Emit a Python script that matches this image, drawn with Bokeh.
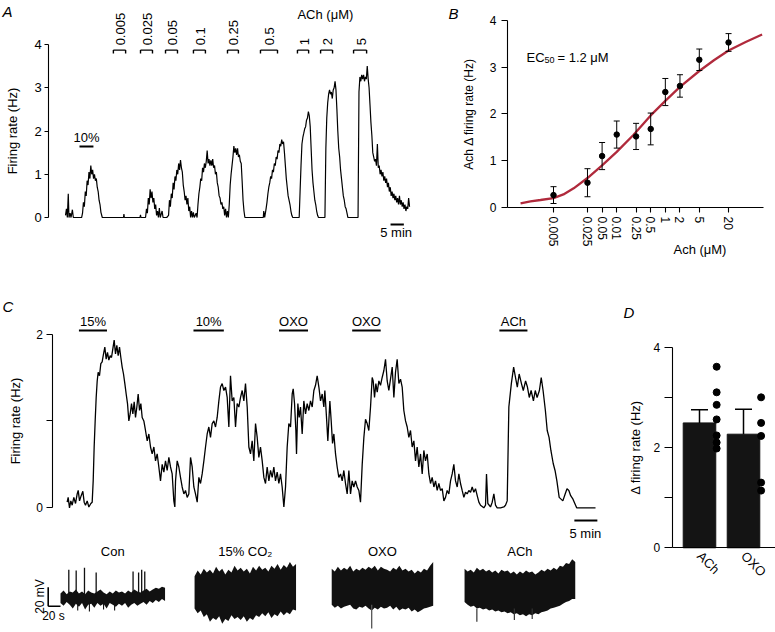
import math
from bokeh.plotting import figure
from bokeh.models import Range1d, FixedTicker, Label, CustomJSTickFormatter
from bokeh.layouts import row, column
from bokeh.embed import file_html
from bokeh.resources import INLINE
from bokeh.core.properties import value

FONT = "Liberation Sans"

# ======================= DATA =======================
# Panel A: firing rate trace (time in min, rate in Hz)
A_TRACE = [
(0.00,0.05),(0.35,0.2),(0.69,0.0),(1.04,0.55),(1.30,0.0),(1.73,0.1),(2.08,0.0),(2.59,0.18),(2.94,0.0),(6.05,0.0),
(6.40,0.1),(6.74,0.35),(7.09,0.25),(7.44,0.6),(7.78,0.5),(8.13,0.85),(8.47,0.75),(8.82,1.05),(9.17,0.9),(9.51,1.2),(9.86,1.0),(10.20,1.1),(10.55,0.9),(10.89,1.0),(11.24,0.85),(11.59,0.9),(11.93,0.7),(12.28,0.6),(12.62,0.4),(12.97,0.3),(13.32,0.12),(13.83,0.0),
(21.79,0.0),(21.96,0.08),(22.13,0.0),(28.01,0.0),(28.19,0.06),(28.36,0.0),(30.09,0.0),
(30.44,0.2),(30.78,0.1),(31.13,0.45),(31.47,0.3),(31.82,0.65),(32.16,0.45),(32.51,0.6),(32.86,0.35),(33.20,0.45),(33.55,0.2),(33.89,0.3),(34.24,0.05),(34.59,0.15),(34.93,0.0),(35.28,0.22),(35.62,0.0),(36.32,0.15),(36.66,0.0),(38.04,0.0),
(38.74,0.05),(39.08,0.4),(39.43,0.25),(39.77,0.55),(40.12,0.45),(40.47,0.8),(40.81,0.65),(41.16,0.95),(41.50,0.85),(41.85,1.1),(42.19,1.0),(42.54,1.25),(42.89,1.1),(43.23,1.33),(43.58,1.15),(43.92,1.05),(44.27,0.75),(44.62,0.6),(44.96,0.4),(45.31,0.5),(45.65,0.3),(46.00,0.45),(46.34,0.15),(46.69,0.25),(47.04,0.0),(47.38,0.15),(47.73,0.0),(48.07,0.12),(48.42,0.0),(49.11,0.1),(49.46,0.0),
(49.80,0.3),(50.15,0.55),(50.50,0.7),(50.84,0.9),(51.19,0.85),(51.53,1.15),(51.88,1.05),(52.22,1.25),(52.57,1.15),(52.92,1.3),(53.26,1.55),(53.61,1.25),(53.95,1.35),(54.30,1.2),(54.65,1.32),(54.99,1.2),(55.34,1.35),(55.68,1.15),(56.03,1.2),(56.37,1.0),(56.72,1.05),(57.07,0.8),(57.41,0.7),(57.76,0.5),(58.10,0.45),(58.45,0.3),(58.80,0.35),(59.14,0.2),(59.49,0.25),(59.83,0.05),(60.18,0.2),(60.53,0.0),(60.87,0.15),(61.22,0.0),(61.56,0.3),
(61.91,0.75),(62.25,1.0),(62.60,1.2),(62.95,1.4),(63.29,1.65),(63.64,1.5),(63.98,1.6),(64.33,1.45),(64.68,1.6),(65.02,1.4),(65.37,1.45),(65.71,1.3),(66.06,1.25),(66.40,0.85),(66.75,0.4),(67.10,0.15),(67.44,0.0),
(74.36,0.0),(74.53,0.15),(74.88,0.0),
(75.40,0.2),(75.74,0.35),(76.09,0.55),(76.43,0.7),(76.78,0.8),(77.13,0.95),(77.47,0.9),(77.82,1.1),(78.16,1.05),(78.51,1.25),(78.86,1.2),(79.20,1.4),(79.55,1.35),(79.89,1.55),(80.24,1.5),(80.58,1.7),(80.93,1.65),(81.28,1.8),(81.62,1.7),(81.97,1.75),(82.31,1.5),(82.66,1.2),(83.01,0.9),(83.35,0.7),(83.70,0.5),(84.04,0.4),(84.39,0.3),(84.74,0.15),(85.08,0.05),(85.43,0.0),(87.85,0.0),
(88.19,0.6),(88.54,1.2),(88.89,1.7),(89.23,1.85),(89.58,1.95),(89.92,2.05),(90.27,2.1),(90.61,2.25),(90.96,2.3),(91.31,2.45),(91.65,2.35),(92.00,2.1),(92.34,1.6),(92.69,1.1),(93.04,0.8),(93.38,0.6),(93.73,0.4),(94.07,0.3),(94.42,0.15),(94.77,0.05),(95.11,0.0),(97.53,0.0),
(97.88,1.6),(98.22,2.3),(98.57,2.65),(98.92,2.85),(99.26,2.95),(99.61,2.85),(99.95,2.9),(100.30,2.75),(100.65,2.95),(100.99,3.0),(101.34,3.15),(101.68,2.95),(102.03,2.5),(102.37,2.0),(102.72,1.6),(103.07,1.4),(103.41,1.1),(103.76,0.9),(104.10,0.7),(104.45,0.5),(104.80,0.4),(105.14,0.25),(105.49,0.2),(105.83,0.1),(106.18,0.0),(109.98,0.0),
(110.16,1.5),(110.33,2.9),(110.68,3.25),(111.02,3.15),(111.37,3.3),(111.71,3.2),(112.06,3.3),(112.40,3.15),(112.75,3.25),(113.10,3.2),(113.44,3.5),(113.79,3.2),(114.13,3.0),(114.48,2.6),(114.82,2.2),(115.17,1.9),(115.52,1.5),(115.86,1.4),(116.21,1.3),(116.55,1.35),(116.90,1.2),(117.25,1.7),(117.59,1.15),(117.94,1.2),(118.28,1.0),(118.63,1.1),(118.98,0.95),(119.32,1.05),(119.67,0.85),(120.01,0.95),(120.36,0.8),(120.70,0.9),(121.05,0.7),(121.40,0.8),(121.74,0.6),(122.09,0.7),(122.43,0.5),(122.78,0.6),(123.13,0.45),(123.47,0.55),(123.82,0.4),(124.16,0.5),(124.51,0.35),(124.85,0.45),(125.20,0.3),(125.55,0.5),(125.89,0.3),(126.24,0.4),(126.58,0.25),(126.93,0.35),(127.27,0.2),(127.62,0.3),(127.97,0.15),(128.31,0.25),(128.66,0.2),(129.00,0.45),(129.35,0.25)]

A_CONC = ["0.005", "0.025", "0.05", "0.1", "0.25", "0.5", "1", "2", "5"]
A_APP_START = [18.0, 28.2, 37.6, 48.1, 60.9, 73.3, 87.2, 95.9, 108.3]
A_APP_END = [22.6, 32.7, 42.1, 52.6, 65.0, 79.7, 91.4, 100.4, 113.2]
A_CO2_LABEL = "10%"
A_CO2_START, A_CO2_END = 5.26, 10.5
A_SCALE_MIN = 5

# Panel B: concentration-response
B_CONC = [0.005, 0.025, 0.05, 0.1, 0.25, 0.5, 1, 2, 5, 20]
B_TICK_LABELS = ["0.005", "0.025", "0.05", "0.01", "0.25", "0.5", "1", "2", "5", "20"]
B_MEAN = [0.265, 0.53, 1.10, 1.56, 1.52, 1.68, 2.47, 2.60, 3.16, 3.53]
B_SEM = [0.18, 0.30, 0.29, 0.29, 0.28, 0.34, 0.29, 0.24, 0.23, 0.19]
B_FIT_X = [0.00105, 0.00168, 0.0027, 0.005, 0.008, 0.013, 0.025, 0.05, 0.1, 0.22, 0.5, 1.0, 2.0, 5.0, 10.0, 20.0, 45.0, 98.0]
B_FIT_Y = [0.09, 0.13, 0.16, 0.20, 0.28, 0.41, 0.63, 0.90, 1.19, 1.55, 1.97, 2.28, 2.58, 2.92, 3.15, 3.36, 3.54, 3.70]

# Panel C: firing rate trace (time in min, rate in Hz)
C_TRACE = [
(0.14,0.065),(0.36,0.12),(0.65,0.0),(0.94,0.08),(1.23,0.03),(1.59,0.12),(1.96,0.05),(2.32,0.16),(2.54,0.2),(2.83,0.08),(3.19,0.14),(3.55,0.19),(3.84,0.065),(4.13,0.03),(4.49,0.08),(4.86,0.01),(5.29,0.05),(5.58,0.065),
(5.80,0.31),(6.01,0.7),(6.23,1.0),(6.45,1.27),(6.67,1.46),(6.88,1.56),
(7.17,1.52),(7.46,1.66),(7.75,1.68),(8.04,1.77),(8.33,1.85),(8.62,1.71),(8.91,1.79),(9.20,1.7),(9.49,1.75),(9.78,1.73),
(10.07,1.83),(10.36,1.93),(10.65,1.77),(10.94,1.87),(11.23,1.75),(11.52,1.85),(11.81,1.73),(12.10,1.62),(12.39,1.54),(12.68,1.43),
(12.97,1.31),(13.26,1.2),(13.55,1.0),(13.84,1.08),(14.13,1.2),(14.42,1.08),(14.71,1.22),(15.00,1.04),(15.29,1.16),(15.58,1.31),
(15.87,1.12),(16.16,1.2),(16.45,1.04),
(16.81,1.0),(17.17,0.89),(17.54,0.77),(17.90,0.85),(18.26,0.7),(18.62,0.62),(18.99,0.7),(19.35,0.54),(19.71,0.62),(20.07,0.47),(20.43,0.31),(20.80,0.5),(21.16,0.41),(21.52,0.54),(21.88,0.43),(22.25,0.58),(22.61,0.47),(22.97,0.39),
(23.33,0.08),(23.55,0.01),(23.70,0.31),
(24.06,0.54),(24.42,0.47),(24.78,0.35),(25.14,0.24),(25.51,0.16),(25.87,0.2),(26.23,0.12),(26.59,0.16),(26.96,0.58),(27.32,0.47),
(27.68,0.24),(28.04,0.16),(28.41,0.065),(28.77,0.35),(29.13,0.28),(29.49,0.39),(29.86,0.54),(30.22,0.7),(30.58,0.85),(30.94,0.93),
(31.30,0.81),(31.67,0.97),(32.03,1.0),(32.39,0.93),(32.75,1.04),(33.12,1.23),(33.48,1.39),(33.84,1.43),(34.20,1.35),(34.57,1.39),
(34.93,1.27),(35.29,0.93),(35.65,1.52),(36.01,1.23),(36.38,1.27),(36.74,0.93),(37.10,1.2),(37.46,1.16),(37.83,1.27),(38.19,1.35),
(38.55,1.23),(38.91,1.43),(39.28,1.16),(39.64,0.7),(40.00,0.62),(40.36,0.77),(40.72,0.54),(41.09,0.97),(41.45,0.81),(41.81,0.58),
(42.17,0.7),(42.54,0.54),(42.90,0.35),(43.26,0.28),(43.62,0.47),(43.99,0.31),
(44.35,0.43),(44.71,0.35),(45.07,0.47),(45.43,0.31),(45.80,0.41),(46.16,0.28),(46.52,0.39),(46.88,0.24),(47.25,0.01),(47.61,0.24),(47.97,0.7),(48.33,0.97),(48.70,0.93),(49.06,1.31),
(49.28,1.37),(49.57,1.2),(49.86,0.89),(50.00,0.62),(50.29,1.2),(50.58,1.04),(50.87,1.16),
(51.23,0.85),(51.59,1.23),(51.96,1.08),(52.32,1.2),(52.68,1.12),(53.04,1.23),(53.41,1.16),(53.77,1.35),(54.13,1.41),(54.49,1.52),(54.86,1.39),(55.22,1.23),(55.58,1.31),(55.94,1.16),
(56.16,1.35),(56.52,1.04),(56.81,0.77),(57.25,1.23),(57.54,1.0),(57.83,0.74),(58.12,0.85),
(58.48,0.62),(58.84,0.47),(59.20,0.35),(59.57,0.39),(59.93,0.31),(60.29,0.43),(60.65,0.28),(61.01,0.16),(61.38,0.43),(61.74,0.16),(62.10,0.31),(62.46,0.24),(62.83,0.31),(63.19,0.24),(63.55,0.2),(63.91,0.065),(64.28,0.5),(64.64,0.81),(65.00,1.02),(65.36,0.97),(65.72,0.89),(66.09,1.16),(66.45,1.5),
(66.67,1.46),(66.96,1.27),(67.25,1.43),
(67.54,1.33),(67.90,1.46),(68.26,1.41),(68.62,1.5),(68.99,1.58),(69.35,1.71),(69.71,1.46),(70.07,1.35),(70.43,1.48),(70.80,1.62),(71.16,1.27),(71.52,1.56),(71.88,1.71),(72.25,1.43),(72.61,1.48),(72.97,1.39),(73.33,1.12),(73.70,1.0),(74.06,0.93),(74.42,0.81),(74.78,0.89),(75.14,0.7),(75.51,0.77),(75.87,0.54),(76.23,0.7),(76.59,0.47),(76.96,0.62),(77.32,0.39),(77.68,0.66),(78.04,0.54),(78.41,0.62),(78.77,0.39),(79.13,0.28),(79.49,0.35),(79.86,0.24),(80.22,0.31),(80.58,0.2),(80.94,0.28),(81.30,0.2),(81.67,0.22),(82.03,0.08),(82.39,0.12),(82.75,0.2),(83.12,0.16),(83.48,0.31),(83.84,0.39),(84.20,0.5),(84.57,0.31),(84.93,0.24),(85.29,0.39),(85.65,0.28),(86.01,0.2),(86.38,0.12),(86.74,0.18),(87.10,0.16),(87.46,0.2),(87.83,0.18),(88.19,0.24),(88.55,0.18),(88.91,0.22),(89.28,0.14),(89.64,0.065),(90.00,0.03),
(90.72,0.0),(91.09,0.03),(91.30,0.39),(91.59,0.05),(92.17,0.01),(92.54,0.065),(92.90,0.16),(93.26,0.03),(93.62,0.0),(94.35,0.0),(95.07,0.01),(95.43,0.03),(95.80,0.08),
(96.16,1.16),(96.3,1.23),(96.7,1.43),(97.2,1.62),(97.6,1.5),(98.0,1.39),(98.4,1.54),(98.9,1.43),(99.3,1.35),(99.8,1.46),(100.2,1.39),(100.6,1.27),(101.0,1.35),(101.5,1.23),(101.9,1.35),(102.3,1.27),(102.8,1.35),(103.2,1.5),(103.6,1.35),(104.1,1.12),(104.5,0.89),(104.9,0.81),(105.3,0.66),(105.8,0.51),(106.2,0.43),(106.6,0.31),(107.1,0.12),(107.5,0.10),(107.9,0.08),(108.4,0.16),(108.8,0.22),(109.2,0.20),(109.6,0.14),(110.1,0.10),(110.5,0.05),(110.9,0.0),(115.0,0.0)]

C_LABELS = ["15%", "10%", "OXO", "OXO", "ACh"]
C_START = [2.7, 27.6, 46.2, 62.1, 94.1]
C_END = [8.8, 34.2, 52.5, 68.3, 100.2]
C_SCALE_MIN = 5

# Voltage traces (local time s, lower mV, upper mV)
V_TITLES = ["Con", "15% CO\u2082", "OXO", "ACh"]
CON_ENV = [(0,-6,4),(5,-9,7),(10,-5,3),(15,-8,6),(20,-12,5),(25,-7,8),(30,-10,4),(35,-6,6),(40,-13,3),(45,-8,7),(50,-7,5),(55,-11,4),(60,-6,6),(65,-9,8),(70,-7,5),(75,-12,3),(80,-6,6),(85,-8,4),(90,-10,7),(95,-7,5),(100,-9,6),(105,-6,4),(110,-11,7),(115,-8,5),(120,-6,8),(125,-9,6),(130,-7,5),(135,-5,7),(140,-8,9),(145,-4,6),(150,-6,8),(155,-3,10),(160,-5,9),(165,-2,11),(170,-4,10)]
CON_SPIKES = [(13.5,29),(25.5,28),(39,31),(58,26),(118,27),(127,26),(132,29),(137,27)]
CON_DIPS = [(28,-14),(47,-15),(70,-13),(88,-14)]
CO2_ENV = [(0,-12,22),(5,-17,28),(10,-14,24),(15,-21,30),(20,-18,26),(25,-26,29),(30,-22,25),(35,-24,32),(40,-20,27),(45,-28,30),(50,-23,24),(55,-25,29),(60,-19,26),(65,-23,33),(70,-21,28),(75,-24,31),(80,-20,27),(85,-26,30),(90,-22,25),(95,-24,32),(100,-19,28),(105,-21,33),(110,-17,29),(115,-20,31),(120,-16,27),(125,-22,33),(130,-18,30),(135,-20,35),(140,-15,29),(145,-19,34),(150,-16,31),(155,-18,37),(160,-13,32),(165,-14,35)]
OXO_ENV = [(0,-8,30),(5,-11,27),(10,-9,32),(15,-12,28),(20,-10,31),(25,-9,29),(30,-8,33),(35,-12,27),(40,-13,30),(45,-10,28),(50,-11,31),(55,-9,29),(60,-12,32),(65,-14,30),(70,-11,33),(75,-13,28),(80,-10,32),(85,-12,30),(90,-11,29),(95,-9,27),(100,-13,31),(105,-10,29),(110,-14,33),(115,-12,28),(120,-13,30),(125,-11,27),(130,-15,29),(135,-13,25),(140,-16,28),(145,-14,26),(150,-12,30),(155,-11,28),(160,-10,33),(165,-9,37)]
OXO_DIPS = [(65,-33)]
ACH_ENV = [(0,-5,30),(5,-8,27),(10,-10,29),(15,-9,26),(20,-12,31),(25,-11,28),(30,-13,30),(35,-12,27),(40,-14,29),(45,-13,26),(50,-15,28),(55,-14,25),(60,-16,29),(65,-15,27),(70,-17,28),(75,-16,25),(80,-18,27),(85,-17,24),(90,-19,27),(95,-18,25),(100,-20,28),(105,-18,26),(110,-19,27),(115,-17,24),(120,-18,26),(125,-16,29),(130,-15,27),(135,-14,30),(140,-12,28),(145,-11,31),(150,-10,29),(155,-9,33),(160,-7,32),(165,-5,36),(170,-4,35),(175,-2,40),(180,-2,37)]
ACH_DIPS = [(20,-26),(81,-24),(110,-23)]
V_SCALE_MV = 20
V_SCALE_S = 20

# Panel D
D_GROUPS = ["ACh", "OXO"]
D_MEAN = [2.49, 2.265]
D_SEM = [0.26, 0.495]
D_ACH_PTS = [3.61, 3.10, 2.85, 2.56, 2.24, 2.10, 1.98]
D_OXO_PTS = [3.0, 2.49, 2.23, 1.30, 1.14]

# ======================= LAYOUT CONSTANTS =======================
V_START = [0, 218, 441, 657]      # where each voltage trace is placed (s)
D_POS = [0.5, 1.5]
D_DOT_SHIFT = 0.39


def make_fig(**kw):
    p = figure(output_backend="svg", toolbar_location=None,
               min_border_left=0, min_border_right=0, min_border_top=0, min_border_bottom=0, **kw)
    p.outline_line_color = None
    for g in p.grid:
        g.visible = False
    p.background_fill_color = "white"
    p.border_fill_color = "white"
    return p


def style_axis(ax, tick_size="12px", label_size="13px"):
    ax.axis_line_color = "black"
    ax.axis_line_width = 1.1
    ax.major_tick_line_color = "black"
    ax.major_tick_line_width = 1.1
    ax.minor_tick_line_color = None
    ax.major_tick_in = 0
    ax.major_label_text_font = FONT
    ax.major_label_text_font_size = tick_size
    ax.major_label_text_color = "black"
    ax.axis_label_text_font = FONT
    ax.axis_label_text_font_size = label_size
    ax.axis_label_text_font_style = "normal"
    ax.axis_label_text_color = "black"


def letter(p, x, y, t):
    p.add_layout(Label(x=x, y=y, text=t, text_font=FONT, text_font_style="italic",
                       text_font_size="15px", text_baseline="top", text_align="left",
                       text_color="black"))


TXT = dict(text_font=value(FONT), text_color="black")

# ======================= PANEL A =======================
pA = make_fig(width=430, height=270, x_range=Range1d(-24.44, 137.22), y_range=Range1d(-1.225, 5.017),
              x_axis_location=None)
ya = pA.yaxis[0]
style_axis(ya, "13px", "13px")
ya.fixed_location = -6.28
ya.bounds = (0, 4)
ya.ticker = FixedTicker(ticks=[0, 1, 2, 3, 4], minor_ticks=[])
ya.major_tick_out = 4
ya.major_label_standoff = 3
ya.axis_label = "Firing rate (Hz)"
ya.axis_label_standoff = 11

a_t = [t for t, v in A_TRACE]
a_v = [v for t, v in A_TRACE]
pA.line(a_t, a_v, line_color="black", line_width=1.2)

BR_TOP, BR_BOT = 3.87, 3.79
pA.segment(x0=A_APP_START, y0=BR_TOP, x1=A_APP_END, y1=BR_TOP, line_color="black", line_width=1.4)
pA.segment(x0=A_APP_START, y0=BR_TOP, x1=A_APP_START, y1=BR_BOT, line_color="black", line_width=1.4)
pA.segment(x0=A_APP_END, y0=BR_TOP, x1=A_APP_END, y1=BR_BOT, line_color="black", line_width=1.4)
pA.text(x=[(s + e) / 2 for s, e in zip(A_APP_START, A_APP_END)], y=3.98, text=A_CONC,
        angle=math.pi / 2, text_align="left", text_baseline="middle", x_offset=1,
        text_font_size="13px", **TXT)
pA.text(x=[97.7], y=[4.69], text=["ACh (\u03bcM)"], text_align="center", text_baseline="middle",
        text_font_size="13px", **TXT)
pA.segment(x0=[A_CO2_START], y0=1.64, x1=[A_CO2_END], y1=1.64, line_color="black", line_width=2)
pA.text(x=[(A_CO2_START + A_CO2_END) / 2], y=[1.85], text=[A_CO2_LABEL], text_align="center",
        text_baseline="middle", text_font_size="13px", **TXT)
pA.segment(x0=[122.2], y0=-0.16, x1=[122.2 + A_SCALE_MIN], y1=-0.16, line_color="black", line_width=2)
pA.text(x=[124.3], y=[-0.35], text=["%d min" % A_SCALE_MIN], text_align="center", text_baseline="middle",
        text_font_size="13px", **TXT)
letter(pA, -23.7, 4.95, "A")

# ======================= PANEL B =======================
pB = make_fig(width=345, height=270, x_axis_type="log", x_range=Range1d(1.472e-5, 184.9),
              y_range=Range1d(-1.348, 4.428))
xb = pB.xaxis[0]
style_axis(xb, "12px")
xb.fixed_location = 0
xb.bounds = (0.0005655, 104.7)
xb.ticker = FixedTicker(ticks=B_CONC, minor_ticks=[])
xb.formatter = CustomJSTickFormatter(args=dict(labels=B_TICK_LABELS), code="return labels[index];")
xb.major_label_orientation = -math.pi / 2
xb.major_tick_out = 5
xb.major_label_standoff = 4
yb = pB.yaxis[0]
style_axis(yb, "12px", "12px")
yb.fixed_location = 0.0005655
yb.bounds = (0, 4)
yb.ticker = FixedTicker(ticks=[0, 1, 2, 3, 4], minor_ticks=[])
yb.major_tick_out = 6
yb.major_label_standoff = 5
yb.axis_label = "Ach \u0394 firing rate (Hz)"
yb.axis_label_standoff = 11

pB.line(B_FIT_X, B_FIT_Y, line_color="#b02a3c", line_width=2.3)
lo = [m - s for m, s in zip(B_MEAN, B_SEM)]
hi = [m + s for m, s in zip(B_MEAN, B_SEM)]
pB.segment(x0=B_CONC, y0=lo, x1=B_CONC, y1=hi, line_color="black", line_width=1)
pB.scatter(B_CONC, hi, marker="dash", size=6, line_color="black", line_width=1)
pB.scatter(B_CONC, lo, marker="dash", size=6, line_color="black", line_width=1)
pB.scatter(B_CONC, B_MEAN, size=5.5, color="black")
pB.text(x=[0.00139], y=[3.21], text=["EC"], text_align="left", text_baseline="middle",
        text_font_size="13px", **TXT)
pB.text(x=[0.00139], y=[3.165], text=["50"], text_align="left", text_baseline="middle",
        x_offset=18, text_font_size="9px", **TXT)
pB.text(x=[0.00139], y=[3.21], text=["= 1.2 \u03bcM"], text_align="left", text_baseline="middle",
        x_offset=31, text_font_size="13px", **TXT)
pB.text(x=[1.47], y=[-0.90], text=["Ach (\u03bcM)"], text_align="left", text_baseline="middle",
        text_font_size="13px", **TXT)
letter(pB, 3.46e-5, 4.342, "B")

# ======================= PANEL C =======================
pC = make_fig(width=620, height=274, x_range=Range1d(-14.35, 120.43), y_range=Range1d(-0.422, 2.731),
              x_axis_location=None)
yc = pC.yaxis[0]
style_axis(yc, "12px", "13px")
yc.fixed_location = -3.15
yc.bounds = (0, 2)
yc.ticker = FixedTicker(ticks=[0, 1, 2], minor_ticks=[])
yc.major_label_overrides = {1: ""}
yc.major_tick_out = 6
yc.major_label_standoff = 3
yc.axis_label = "Firing rate (Hz)"
yc.axis_label_standoff = 11

c_t = [t for t, v in C_TRACE]
c_v = [v for t, v in C_TRACE]
pC.line(c_t, c_v, line_color="black", line_width=1.3)
pC.segment(x0=C_START, y0=2.04, x1=C_END, y1=2.04, line_color="black", line_width=2)
pC.text(x=[(s + e) / 2 for s, e in zip(C_START, C_END)], y=2.14, text=C_LABELS,
        text_align="center", text_baseline="middle", text_font_size="13px", **TXT)
pC.segment(x0=[110.4], y0=-0.146, x1=[110.4 + C_SCALE_MIN], y1=-0.146, line_color="black", line_width=2)
pC.text(x=[112.8], y=[-0.30], text=["%d min" % C_SCALE_MIN], text_align="center", text_baseline="middle",
        text_font_size="13px", **TXT)
letter(pC, -13.9, 2.409, "C")

# ======================= VOLTAGE TRACES =======================
pV = make_fig(width=620, height=88, x_range=Range1d(-97.56, 910.57), y_range=Range1d(-37.2, 55.5),
              x_axis_location=None, y_axis_location=None)
envs = [CON_ENV, CO2_ENV, OXO_ENV, ACH_ENV]
for env, off in zip(envs, V_START):
    pV.varea(x=[t + off for t, l, u in env], y1=[l for t, l, u in env], y2=[u for t, l, u in env],
             fill_color="#111111")
pV.segment(x0=[t for t, h in CON_SPIKES], y0=0, x1=[t for t, h in CON_SPIKES],
           y1=[h for t, h in CON_SPIKES], line_color="#111111", line_width=1.3)
pV.segment(x0=[t for t, h in CON_DIPS], y0=-4, x1=[t for t, h in CON_DIPS],
           y1=[h for t, h in CON_DIPS], line_color="#111111", line_width=1.1)
pV.segment(x0=[t + V_START[2] for t, h in OXO_DIPS], y0=-8, x1=[t + V_START[2] for t, h in OXO_DIPS],
           y1=[h for t, h in OXO_DIPS], line_color="#555555", line_width=1.3)
pV.segment(x0=[t + V_START[3] for t, h in ACH_DIPS], y0=-12, x1=[t + V_START[3] for t, h in ACH_DIPS],
           y1=[h for t, h in ACH_DIPS], line_color="#333333", line_width=1.2)
pV.text(x=[off + env[-1][0] / 2 for env, off in zip(envs, V_START)], y=48.0, text=V_TITLES,
        text_align="center", text_baseline="middle", text_font_size="13px", **TXT)
pV.segment(x0=[-V_SCALE_S], y0=-9.5, x1=[-V_SCALE_S], y1=[-9.5 + V_SCALE_MV], line_color="black", line_width=1.6)
pV.segment(x0=[-V_SCALE_S], y0=-9.5, x1=[0], y1=-9.5, line_color="black", line_width=1.6)
pV.text(x=[-34.1], y=[0.7], text=["%d mV" % V_SCALE_MV], angle=math.pi / 2, text_align="center",
        text_baseline="middle", text_font_size="12px", **TXT)
pV.text(x=[-11.4], y=[-19.6], text=["%d s" % V_SCALE_S], text_align="center", text_baseline="middle",
        text_font_size="12px", **TXT)

# ======================= PANEL D =======================
pD = make_fig(width=155, height=362, x_range=Range1d(-1.295, 2.227), y_range=Range1d(-1.689, 5.529))
xd = pD.xaxis[0]
style_axis(xd, "13px")
xd.fixed_location = 0
xd.bounds = (-0.12, 2.227)
xd.ticker = FixedTicker(ticks=D_POS, minor_ticks=[])
xd.formatter = CustomJSTickFormatter(args=dict(labels=D_GROUPS), code="return labels[index];")
xd.major_label_orientation = -math.pi / 4
xd.major_tick_out = 0
xd.major_label_standoff = 6
yd = pD.yaxis[0]
style_axis(yd, "12px", "13px")
yd.fixed_location = -0.12
yd.bounds = (0, 4)
yd.ticker = FixedTicker(ticks=[0, 1, 2, 3, 4], minor_ticks=[])
yd.major_label_overrides = {1: "", 3: ""}
yd.major_tick_out = 8
yd.major_label_standoff = 4
yd.axis_label = "\u0394 firing rate (Hz)"
yd.axis_label_standoff = 8

pD.vbar(x=D_POS, top=D_MEAN, bottom=0, width=0.74, fill_color="#141414", line_color="#141414")
d_hi = [m + s for m, s in zip(D_MEAN, D_SEM)]
pD.segment(x0=D_POS, y0=D_MEAN, x1=D_POS, y1=d_hi, line_color="black", line_width=1.5)
pD.scatter(D_POS, d_hi, marker="dash", size=17, line_color="black", line_width=1.5)
pD.scatter([D_POS[0] + D_DOT_SHIFT] * len(D_ACH_PTS), D_ACH_PTS, size=7, color="black")
pD.scatter([D_POS[1] + D_DOT_SHIFT + 0.01] * len(D_OXO_PTS), D_OXO_PTS, size=7, color="black")
letter(pD, -1.227, 4.87, "D")

layout = column(row(pA, pB), row(column(pC, pV), pD))
open("out.html", "w").write(file_html(layout, INLINE))
